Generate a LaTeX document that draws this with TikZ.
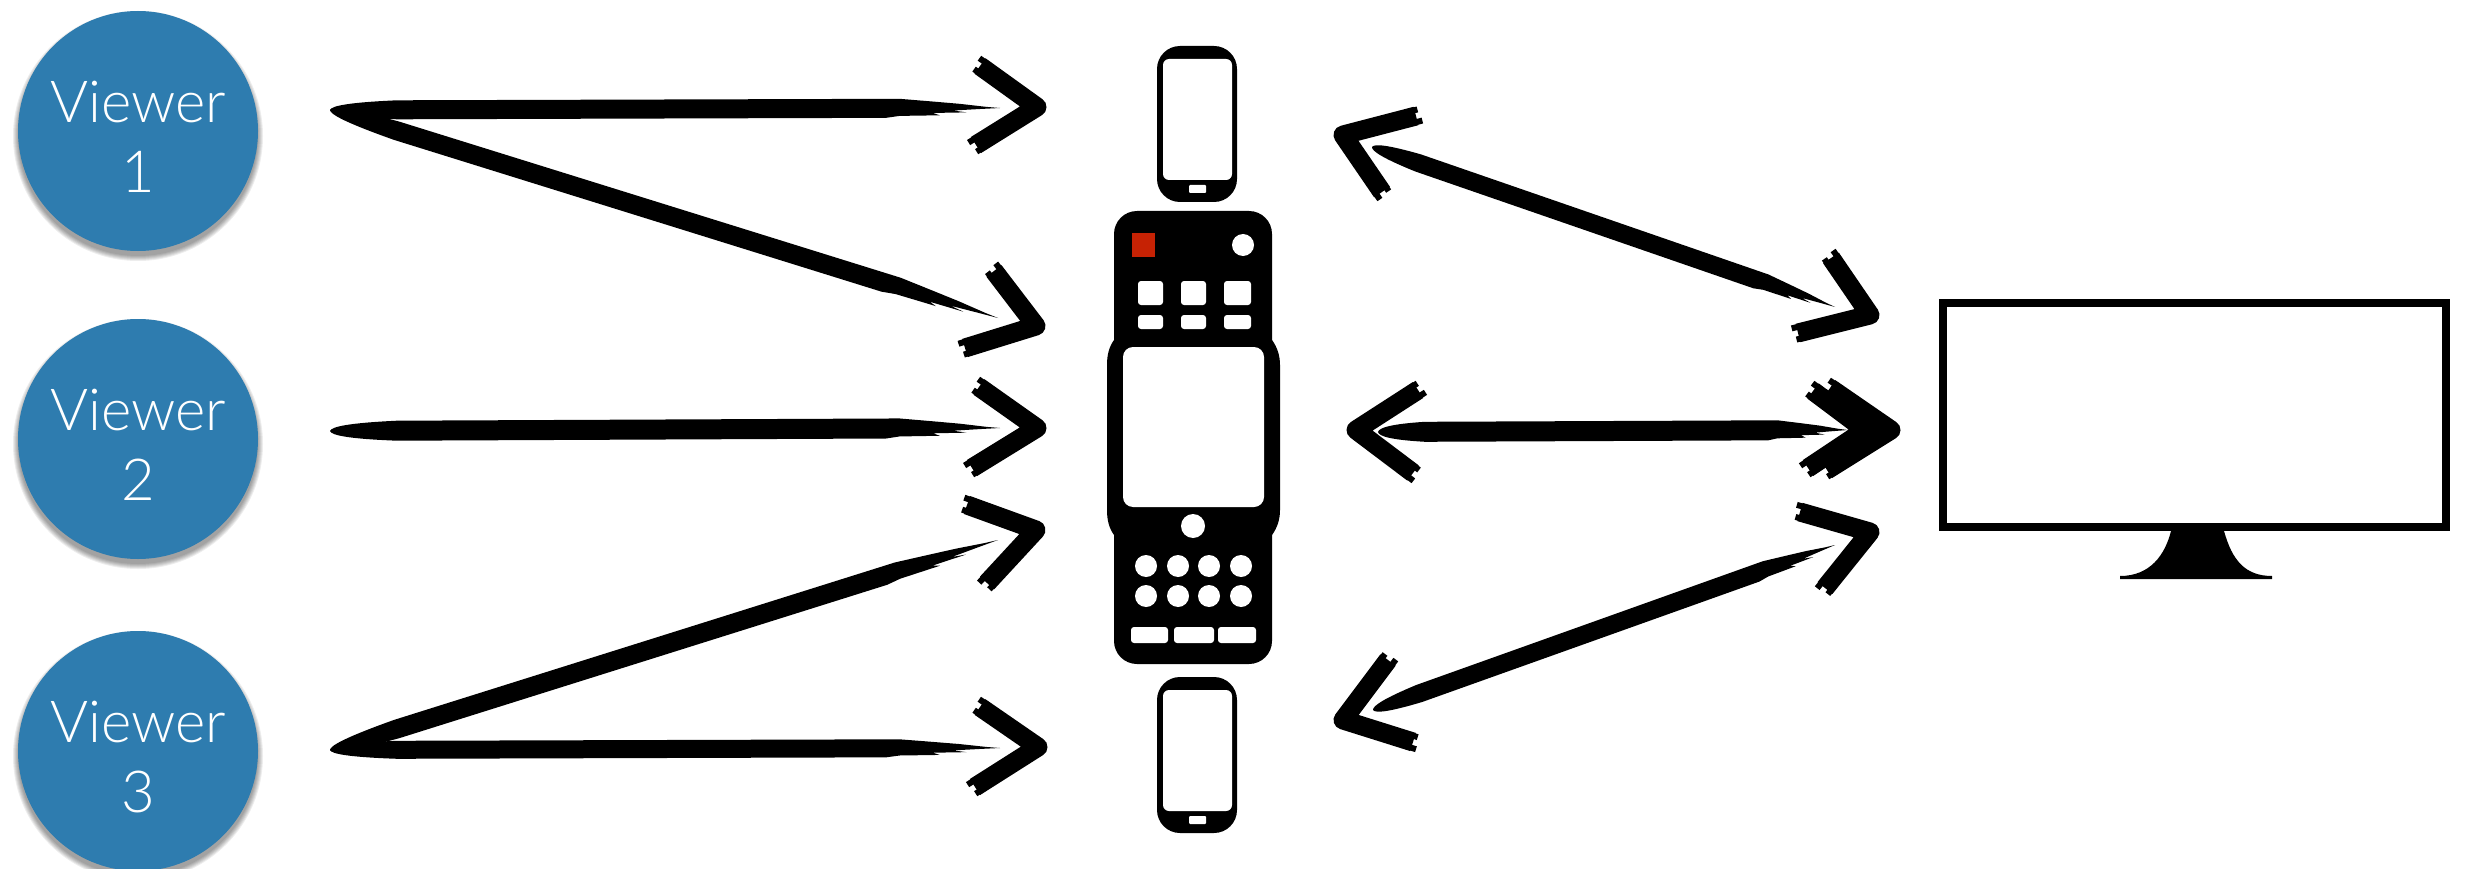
\documentclass[tikz,border=0pt]{standalone}
\usepackage{fontspec}
\newfontfamily\vfont{Lato Light}
\usetikzlibrary{calc}
\definecolor{viewerblue}{HTML}{2E7CAF}
\definecolor{remotered}{HTML}{C62204}
\tikzset{
  brushink/.style={fill=black,draw=none},
  headstroke/.style={draw=black,line width=19pt,line join=round,line cap=butt},
  tuft/.style={draw=black,line width=6pt,line cap=butt},
  viewer/.style={circle,fill=viewerblue,minimum size=240pt,inner sep=0pt},
  viewertext/.style={text=white,align=center,font=\vfont\fontsize{58}{70}\selectfont,inner sep=0pt},
  ink/.style={fill=black,draw=none},
  hole/.style={fill=white,draw=none},
}
% tapered brush stroke between two named points: tail, feathered end, half width
\newcommand{\bpt}[5]{($(#1)!#3!(#2)!#4*#5!90:(#2)$)}
\newcommand{\brushline}[3]{%
  \fill[brushink] (#1)
    .. controls \bpt{#1}{#2}{0.002}{0.45}{#3} and \bpt{#1}{#2}{0.03}{0.8}{#3} .. \bpt{#1}{#2}{0.10}{1}{#3}
    -- \bpt{#1}{#2}{0.85}{1}{#3} -- \bpt{#1}{#2}{0.90}{0.7}{#3} -- \bpt{#1}{#2}{0.94}{0.45}{#3}
    -- \bpt{#1}{#2}{0.98}{0.12}{#3} -- (#2)
    -- \bpt{#1}{#2}{0.97}{-0.1}{#3} -- \bpt{#1}{#2}{0.93}{-0.25}{#3} -- \bpt{#1}{#2}{0.95}{-0.45}{#3}
    -- \bpt{#1}{#2}{0.90}{-0.5}{#3} -- \bpt{#1}{#2}{0.91}{-0.75}{#3} -- \bpt{#1}{#2}{0.85}{-0.8}{#3}
    -- \bpt{#1}{#2}{0.83}{-1}{#3} -- \bpt{#1}{#2}{0.10}{-1}{#3}
    .. controls \bpt{#1}{#2}{0.03}{-0.8}{#3} and \bpt{#1}{#2}{0.002}{-0.45}{#3} .. (#1) -- cycle;}
% brush chevron: arm end, vertex, arm end
\newcommand{\brushhead}[3]{%
  \draw[headstroke] (#1) -- (#2) -- (#3);
  \draw[tuft] ($(#1)!-5pt!(#2)!6pt!90:(#2)$) -- ($(#1)!8pt!(#2)!6pt!90:(#2)$);
  \draw[tuft] ($(#1)!-3pt!(#2)!-6pt!90:(#2)$) -- ($(#1)!8pt!(#2)!-6pt!90:(#2)$);
  \draw[tuft] ($(#3)!-5pt!(#2)!6pt!90:(#2)$) -- ($(#3)!8pt!(#2)!6pt!90:(#2)$);
  \draw[tuft] ($(#3)!-3pt!(#2)!-6pt!90:(#2)$) -- ($(#3)!8pt!(#2)!-6pt!90:(#2)$);}
% phone icon, top y given
\newcommand{\phoneicon}[1]{%
  \begin{scope}[yshift=-#1pt]
    \fill[ink,rounded corners=23pt] (1157,0) rectangle (1237,156);
    \fill[hole,rounded corners=6pt] (1163,13) rectangle (1232,134);
    \fill[hole,rounded corners=1pt] (1189,139) rectangle (1206,147);
  \end{scope}}
\begin{document}
\begin{tikzpicture}[x=1pt,y=-1pt]
\useasboundingbox (0,0) rectangle (2468,869);
\fill[white] (0,0) rectangle (2468,869);

% viewers
\foreach \cy in {131,439,751}{
  \foreach \r in {125,124,123,122,121,120}{
    \fill[black,opacity=0.07] (138,\cy+5) circle (\r pt);}
}
\node[viewer] (v1) at (138,131) {};
\node[viewer] (v2) at (138,439) {};
\node[viewer] (v3) at (138,751) {};
\node[viewertext] (t1) at ($(v1)+(0,6)$) {Viewer\\1};
\node[viewertext] (t2) at ($(v2)+(0,6)$) {Viewer\\2};
\node[viewertext] (t3) at ($(v3)+(0,6)$) {Viewer\\3};

% phones
\phoneicon{46}
\phoneicon{677}

% remote
\fill[ink,rounded corners=23pt] (1114,211) rectangle (1272,664);
\fill[ink] (1114,340) .. controls (1109,347) and (1107,355) .. (1107,365)
  -- (1107,510) .. controls (1107,520) and (1109,528) .. (1114,535)
  -- (1272,535) .. controls (1277,528) and (1280,520) .. (1280,510)
  -- (1280,365) .. controls (1280,355) and (1277,347) .. (1272,340) -- cycle;
\fill[hole,rounded corners=10pt] (1123,347) rectangle (1264,507);
\fill[remotered] (1132,233) rectangle (1155,257);
\fill[hole] (1243,245) circle (11pt);
\foreach \xa/\xb in {1138/1163,1181/1206,1224/1251}{
  \fill[hole,rounded corners=3pt] (\xa,281) rectangle (\xb,305);
  \fill[hole,rounded corners=3pt] (\xa,315) -- (\xb,315) -- (\xb,329) -- (\xa,329) -- cycle;
}
\fill[hole] (1193,526) circle (12pt);
\foreach \x in {1146,1178,1209,1241}{
  \fill[hole] (\x,566) circle (11pt);
  \fill[hole] (\x,596) circle (11pt);
}
\foreach \xa/\xb in {1131/1168,1174/1214,1218/1256}{
  \fill[hole,rounded corners=3pt] (\xa,627) rectangle (\xb,643);
}

% monitor
\fill[ink] (1939,299) rectangle (2450,531);
\fill[hole] (1947,307) rectangle (2442,523);
\fill[ink] (2171,531) .. controls (2165,555) and (2150,576) .. (2120,576)
  -- (2120,579) -- (2272,579) -- (2272,576)
  .. controls (2245,576) and (2232,560) .. (2224,531) -- cycle;

% connector end points
\coordinate (ta) at (330,110);
\coordinate (tb) at (330,431);
\coordinate (tc) at (330,750);
\coordinate (p1) at (1000,108);
\coordinate (p2) at (998,318);
\coordinate (p3) at (1000,428);
\coordinate (p4) at (998,540);
\coordinate (p5) at (1000,748);
\coordinate (q1) at (1372,147);
\coordinate (q2) at (1378,432);
\coordinate (q3) at (1373,710);
\coordinate (r1) at (1835,307);
\coordinate (r2) at (1848,430);
\coordinate (r3) at (1835,545);

\brushline{ta}{p1}{9.5pt}
\brushline{ta}{p2}{9.5pt}
\brushline{tb}{p3}{10pt}
\brushline{tc}{p4}{9.5pt}
\brushline{tc}{p5}{9pt}
\brushline{q1}{r1}{9pt}
\brushline{q2}{r2}{10pt}
\brushline{q3}{r3}{9pt}

% arrow heads
\coordinate (h1a) at (980,66);  \coordinate (h1v) at (1037,107); \coordinate (h1b) at (976,145);
\coordinate (h2a) at (994,271); \coordinate (h2v) at (1036,326); \coordinate (h2b) at (965,348);
\coordinate (h3a) at (979,387); \coordinate (h3v) at (1037,428); \coordinate (h3b) at (972,468);
\coordinate (h4a) at (967,505); \coordinate (h4v) at (1036,530); \coordinate (h4b) at (987,583);
\coordinate (h5a) at (980,707); \coordinate (h5v) at (1038,747); \coordinate (h5b) at (975,787);
\coordinate (k1a) at (1416,116); \coordinate (k1v) at (1343,135); \coordinate (k1b) at (1382,192);
\coordinate (k2a) at (1418,390); \coordinate (k2v) at (1356,430); \coordinate (k2b) at (1413,473);
\coordinate (k3a) at (1388,660); \coordinate (k3v) at (1343,720); \coordinate (k3b) at (1413,742);
\coordinate (m1a) at (1831,258); \coordinate (m1v) at (1870,315); \coordinate (m1b) at (1798,333);
\coordinate (m2a) at (1830,388); \coordinate (m2v) at (1891,430); \coordinate (m2b) at (1827,470);
\coordinate (n2a) at (1813,391); \coordinate (n2v) at (1865,430); \coordinate (n2b) at (1808,468);
\coordinate (m3a) at (1800,512); \coordinate (m3v) at (1870,532); \coordinate (m3b) at (1825,588);
\brushhead{h1a}{h1v}{h1b}
\brushhead{h2a}{h2v}{h2b}
\brushhead{h3a}{h3v}{h3b}
\brushhead{h4a}{h4v}{h4b}
\brushhead{h5a}{h5v}{h5b}
\brushhead{k1a}{k1v}{k1b}
\brushhead{k2a}{k2v}{k2b}
\brushhead{k3a}{k3v}{k3b}
\brushhead{m1a}{m1v}{m1b}
\brushhead{m2a}{m2v}{m2b}
\brushhead{n2a}{n2v}{n2b}
\brushhead{m3a}{m3v}{m3b}
\end{tikzpicture}
\end{document}
